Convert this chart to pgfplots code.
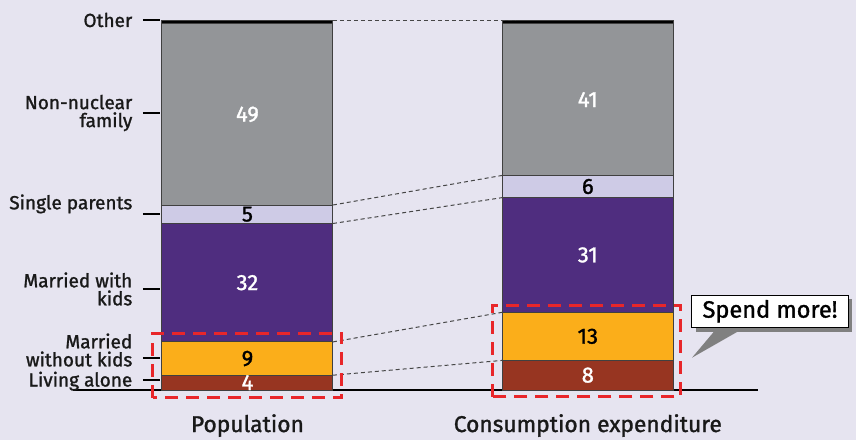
\documentclass[border=0pt]{standalone}
\usepackage{pgfplots}
\pgfplotsset{compat=1.18}
\usepackage{fontspec}
\setmainfont{Fira Sans}[FakeBold=1.3]
\definecolor{bg}{RGB}{230,228,240}
\definecolor{cBrown}{RGB}{151,53,33}
\definecolor{cOrange}{RGB}{251,174,26}
\definecolor{cPurple}{RGB}{79,45,127}
\definecolor{cLav}{RGB}{206,203,230}
\definecolor{cGray}{RGB}{147,149,152}
\definecolor{cRed}{RGB}{232,38,42}
\definecolor{cDash}{RGB}{70,70,70}
\begin{document}
\begin{tikzpicture}[x=1pt,y=1pt]
\fill[bg] (0,0) rectangle (428,220);
\pgfplotsset{base/.style={
  at={(36.5pt,25pt)}, anchor=south west,
  scale only axis, width=342.5pt, height=185pt,
  xmin=-0.5125, xmax=1.5, ymin=0, ymax=100, clip=false}}
\begin{axis}[base,
  ybar stacked, bar width=85.5pt,
  axis x line*=bottom, axis y line=none,
  xtick={0,1}, xticklabels={Population, Consumption expenditure},
  major tick length=0pt,
  xticklabel style={font=\fontsize{11.4}{11}\selectfont, anchor=base, yshift=-21pt, text=black!90},
  ytick=\empty,
  axis line style={black, line width=0.6pt, -},
  every axis plot/.append style={draw=black!75, line width=0.5pt},
]
\addplot[fill=cBrown] coordinates {(0,4) (1,8)};
\addplot[fill=cOrange] coordinates {(0,9) (1,13)};
\addplot[fill=cPurple] coordinates {(0,32) (1,31)};
\addplot[fill=cLav] coordinates {(0,5) (1,6)};
\addplot[fill=cGray] coordinates {(0,49) (1,41)};
\addplot[fill=black] coordinates {(0,1) (1,1)};
\end{axis}
\begin{axis}[base, axis lines=none, xtick=\empty, ytick=\empty]
% connecting dashed lines
\addplot[cDash, line width=0.5pt, dash pattern=on 2pt off 1.5pt] coordinates {(0.2512,4) (0.7488,8)};
\addplot[cDash, line width=0.5pt, dash pattern=on 2pt off 1.5pt] coordinates {(0.2512,13) (0.7488,21)};
\addplot[cDash, line width=0.5pt, dash pattern=on 2pt off 1.5pt] coordinates {(0.2512,45) (0.7488,52)};
\addplot[cDash, line width=0.5pt, dash pattern=on 2pt off 1.5pt] coordinates {(0.2512,50) (0.7488,58)};
\addplot[cDash, line width=0.5pt, dash pattern=on 2pt off 1.5pt] coordinates {(0.2512,100) (0.79,100)};
% category ticks
\addplot[black, line width=0.6pt] coordinates {(-0.3069,100) (-0.2555,100)};
\addplot[black, line width=0.6pt] coordinates {(-0.3069,74.86) (-0.2555,74.86)};
\addplot[black, line width=0.6pt] coordinates {(-0.3069,47.57) (-0.2555,47.57)};
\addplot[black, line width=0.6pt] coordinates {(-0.3069,27.3) (-0.2555,27.3)};
\addplot[black, line width=0.6pt] coordinates {(-0.3069,8.65) (-0.2555,8.65)};
\addplot[black, line width=0.6pt] coordinates {(-0.3069,2.7) (-0.2555,2.7)};
% category labels
\begin{scope}[every node/.style={anchor=east, align=right, inner sep=0pt, text=black!90, font=\fontsize{9.5}{9}\selectfont}]
\node at (axis cs:-0.3371,100) {Other};
\node at (axis cs:-0.3371,74.86) {Non-nuclear\\family};
\node at (axis cs:-0.3371,50.3) {Single parents};
\node at (axis cs:-0.3371,27.3) {Married with\\kids};
\node at (axis cs:-0.3371,10.8) {Married\\without kids};
\node at (axis cs:-0.3371,2.4) {Living alone};
\end{scope}
% values
\begin{scope}[every node/.style={font=\fontsize{11}{11}\selectfont, inner sep=0pt}]
\node[white] at (axis cs:0,2) {4};
\node[black] at (axis cs:0,8.5) {9};
\node[white] at (axis cs:0,29) {32};
\node[black] at (axis cs:0,47.5) {5};
\node[white] at (axis cs:0,74.5) {49};
\node[white] at (axis cs:1,4) {8};
\node[black] at (axis cs:1,14.5) {13};
\node[white] at (axis cs:1,36.5) {31};
\node[black] at (axis cs:1,55) {6};
\node[white] at (axis cs:1,78.5) {41};
\end{scope}
% red highlight boxes
\draw[cRed, line width=1.5pt, dash pattern=on 6.5pt off 4pt] (axis cs:-0.2775,-2.16) rectangle (axis cs:0.2775,15.4);
\draw[cRed, line width=1.5pt, dash pattern=on 6.5pt off 4pt] (axis cs:0.72,-1.81) rectangle (axis cs:1.2731,22.97);
\end{axis}
% callout (pixel coordinates)
\begin{scope}[shift={(0pt,220pt)}, x=0.5pt, y=-0.5pt]
\fill[black!50] (717,328) -- (744,328) -- (692,357.7) -- cycle;
\fill[black!50] (695.7,299) rectangle (852,331.7);
\filldraw[fill=white, draw=black, line width=0.5pt] (691.7,295) rectangle (848,327.7);
\node[font=\fontsize{11.8}{11}\selectfont, text=black] at (770,311.3) {Spend more!};
\end{scope}
\pgfresetboundingbox
\useasboundingbox (0,0) rectangle (428,220);
\end{tikzpicture}
\end{document}
